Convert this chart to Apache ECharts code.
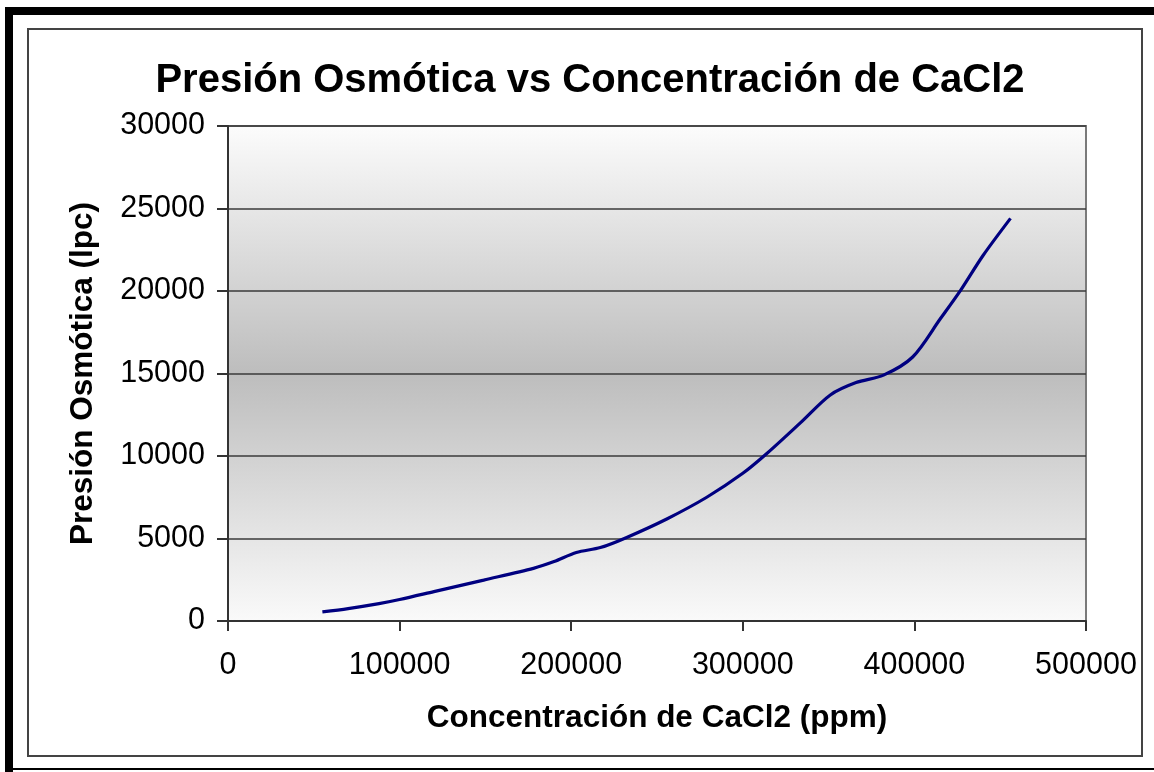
<!DOCTYPE html>
<html>
<head>
<meta charset="utf-8">
<script src="https://cdn.jsdelivr.net/npm/echarts@6/dist/echarts.min.js"></script>
<style>
html,body{margin:0;padding:0;background:#fff;}
#chart{width:1154px;height:772px;}
</style>
</head>
<body>
<div id="chart"></div>
<script>
const titleText = 'Presión Osmótica vs Concentración de CaCl2';
const xAxisName = 'Concentración de CaCl2 (ppm)';
const yAxisName = 'Presión Osmótica (lpc)';
const concentration = [55000, 70000, 88000, 100000, 120000, 149000, 178000, 190000, 203000, 217000, 232000, 256000, 279000, 300000, 314000, 334000, 351000, 366000, 382000, 399000, 415000, 427000, 440000, 456000];
const pressure = [550, 750, 1050, 1300, 1780, 2480, 3190, 3600, 4150, 4450, 5050, 6200, 7500, 8950, 10150, 12050, 13700, 14450, 14900, 16000, 18300, 20050, 22150, 24400];

const chart = echarts.init(document.getElementById('chart'));
const font = '"Liberation Sans", Arial, sans-serif';
chart.setOption({
  animation: false,
  backgroundColor: '#fff',
  title: {
    text: titleText, left: 585, top: 56, textAlign: 'center',
    textStyle: {fontFamily: font, fontWeight: 'bold', fontSize: 40, color: '#000'}
  },
  grid: {
    left: 228, right: 68, top: 126, bottom: 151, show: true,
    borderColor: '#7a7a7a', borderWidth: 2,
    backgroundColor: new echarts.graphic.LinearGradient(0, 0, 0, 1, [
      {offset: 0, color: '#fcfcfc'},
      {offset: 0.5, color: '#bdbdbd'},
      {offset: 1, color: '#fafafa'}
    ])
  },
  xAxis: {
    type: 'value', min: 0, max: 500000, interval: 100000,
    name: xAxisName, nameLocation: 'middle', nameGap: 81,
    nameTextStyle: {fontFamily: font, fontWeight: 'bold', fontSize: 31.5, color: '#000'},
    axisLine: {show: true, lineStyle: {color: '#333', width: 2}},
    axisTick: {show: true, inside: false, length: 10, lineStyle: {color: '#333', width: 2}},
    axisLabel: {fontFamily: font, fontSize: 30.5, color: '#000', margin: 29, formatter: v => String(v)},
    splitLine: {show: false}
  },
  yAxis: {
    type: 'value', min: 0, max: 30000, interval: 5000,
    name: yAxisName, nameLocation: 'middle', nameGap: 129, nameRotate: 90,
    nameTextStyle: {fontFamily: font, fontWeight: 'bold', fontSize: 31.5, color: '#000'},
    axisLine: {show: true, lineStyle: {color: '#333', width: 2}},
    axisTick: {show: true, inside: false, length: 11, lineStyle: {color: '#333', width: 2}},
    axisLabel: {fontFamily: font, fontSize: 30.5, color: '#000', margin: 23, formatter: v => String(v)},
    splitLine: {show: true, lineStyle: {color: '#3a3a3a', width: 1.5}}
  },
  series: [{
    type: 'line',
    data: concentration.map((c, i) => [c, pressure[i]]),
    showSymbol: false,
    smooth: 0.3,
    lineStyle: {color: '#000080', width: 3.2}
  }],
  graphic: [
    {type: 'rect', shape: {x: 5, y: 7, width: 8, height: 765}, style: {fill: '#000'}, silent: true},
    {type: 'rect', shape: {x: 5, y: 7, width: 1149, height: 8}, style: {fill: '#000'}, silent: true},
    {type: 'rect', shape: {x: 5, y: 768, width: 1149, height: 2}, style: {fill: '#000'}, silent: true},
    {type: 'rect', shape: {x: 28, y: 29, width: 1114, height: 727}, style: {fill: 'none', stroke: '#444', lineWidth: 2}, silent: true}
  ]
});
</script>
</body>
</html>
